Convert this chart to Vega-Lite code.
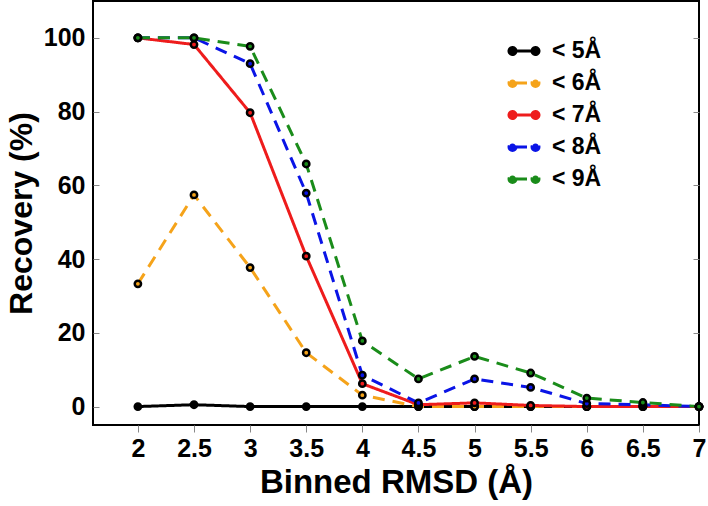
{
  "$schema": "https://vega.github.io/schema/vega-lite/v6.json",
  "width": 606,
  "height": 424,
  "autosize": {"type": "none"},
  "padding": {"left": 93, "top": 1, "right": 9, "bottom": 81},
  "background": "white",
  "config": {
    "font": "Liberation Sans",
    "view": {"stroke": "black", "strokeWidth": 2},
    "axis": {"grid": false, "domain": false, "labelFont": "Liberation Sans", "labelFontWeight": "bold", "labelColor": "black", "titleFont": "Liberation Sans", "titleFontWeight": "bold", "titleColor": "black", "tickColor": "#888888", "tickWidth": 1}
  },
  "data": {"values": [
    {"rmsd": 2, "series": "< 5Å", "recovery": 0},
    {"rmsd": 2.5, "series": "< 5Å", "recovery": 0.5},
    {"rmsd": 3, "series": "< 5Å", "recovery": 0},
    {"rmsd": 3.5, "series": "< 5Å", "recovery": 0},
    {"rmsd": 4, "series": "< 5Å", "recovery": 0},
    {"rmsd": 4.5, "series": "< 5Å", "recovery": 0},
    {"rmsd": 5, "series": "< 5Å", "recovery": 0},
    {"rmsd": 5.5, "series": "< 5Å", "recovery": 0},
    {"rmsd": 6, "series": "< 5Å", "recovery": 0},
    {"rmsd": 6.5, "series": "< 5Å", "recovery": 0},
    {"rmsd": 7, "series": "< 5Å", "recovery": 0},
    {"rmsd": 2, "series": "< 6Å", "recovery": 33.3},
    {"rmsd": 2.5, "series": "< 6Å", "recovery": 57.4},
    {"rmsd": 3, "series": "< 6Å", "recovery": 37.7},
    {"rmsd": 3.5, "series": "< 6Å", "recovery": 14.6},
    {"rmsd": 4, "series": "< 6Å", "recovery": 3.1},
    {"rmsd": 4.5, "series": "< 6Å", "recovery": 0},
    {"rmsd": 5, "series": "< 6Å", "recovery": 0},
    {"rmsd": 5.5, "series": "< 6Å", "recovery": 0},
    {"rmsd": 6, "series": "< 6Å", "recovery": 0},
    {"rmsd": 6.5, "series": "< 6Å", "recovery": 0},
    {"rmsd": 7, "series": "< 6Å", "recovery": 0},
    {"rmsd": 2, "series": "< 7Å", "recovery": 100},
    {"rmsd": 2.5, "series": "< 7Å", "recovery": 98.2},
    {"rmsd": 3, "series": "< 7Å", "recovery": 79.7},
    {"rmsd": 3.5, "series": "< 7Å", "recovery": 40.8},
    {"rmsd": 4, "series": "< 7Å", "recovery": 6.2},
    {"rmsd": 4.5, "series": "< 7Å", "recovery": 0.5},
    {"rmsd": 5, "series": "< 7Å", "recovery": 1},
    {"rmsd": 5.5, "series": "< 7Å", "recovery": 0.3},
    {"rmsd": 6, "series": "< 7Å", "recovery": 0},
    {"rmsd": 6.5, "series": "< 7Å", "recovery": 0},
    {"rmsd": 7, "series": "< 7Å", "recovery": 0},
    {"rmsd": 2, "series": "< 8Å", "recovery": 100},
    {"rmsd": 2.5, "series": "< 8Å", "recovery": 100},
    {"rmsd": 3, "series": "< 8Å", "recovery": 93},
    {"rmsd": 3.5, "series": "< 8Å", "recovery": 57.9},
    {"rmsd": 4, "series": "< 8Å", "recovery": 8.5},
    {"rmsd": 4.5, "series": "< 8Å", "recovery": 1},
    {"rmsd": 5, "series": "< 8Å", "recovery": 7.5},
    {"rmsd": 5.5, "series": "< 8Å", "recovery": 5.2},
    {"rmsd": 6, "series": "< 8Å", "recovery": 0.8},
    {"rmsd": 6.5, "series": "< 8Å", "recovery": 0.5},
    {"rmsd": 7, "series": "< 8Å", "recovery": 0},
    {"rmsd": 2, "series": "< 9Å", "recovery": 100},
    {"rmsd": 2.5, "series": "< 9Å", "recovery": 100},
    {"rmsd": 3, "series": "< 9Å", "recovery": 97.7},
    {"rmsd": 3.5, "series": "< 9Å", "recovery": 65.8},
    {"rmsd": 4, "series": "< 9Å", "recovery": 17.8},
    {"rmsd": 4.5, "series": "< 9Å", "recovery": 7.5},
    {"rmsd": 5, "series": "< 9Å", "recovery": 13.6},
    {"rmsd": 5.5, "series": "< 9Å", "recovery": 9.1},
    {"rmsd": 6, "series": "< 9Å", "recovery": 2.3},
    {"rmsd": 6.5, "series": "< 9Å", "recovery": 1.1},
    {"rmsd": 7, "series": "< 9Å", "recovery": 0}
  ]},
  "encoding": {
    "x": {"field": "rmsd", "type": "quantitative", "title": "Binned RMSD (Å)",
      "scale": {"domain": [1.6, 7], "nice": false, "zero": false},
      "axis": {"values": [2, 2.5, 3, 3.5, 4, 4.5, 5, 5.5, 6, 6.5, 7], "format": "~g", "labelFontSize": 25, "titleFontSize": 33, "tickSize": 7, "labelPadding": 4, "titlePadding": 5, "labelFlush": false}},
    "color": {"field": "series", "type": "nominal", "sort": ["< 5Å", "< 6Å", "< 7Å", "< 8Å", "< 9Å"],
      "scale": {"domain": ["< 5Å", "< 6Å", "< 7Å", "< 8Å", "< 9Å"], "range": ["#000000", "#f5a31a", "#ee1c1c", "#0a14e6", "#1a8c1a"]},
      "legend": {"orient": "none", "legendX": 417, "legendY": 36, "title": null,
        "symbolType": "M-0.72,0L0.72,0M-1.2,0a0.28,0.28 0 1,0 0.56,0a0.28,0.28 0 1,0 -0.56,0M0.64,0a0.28,0.28 0 1,0 0.56,0a0.28,0.28 0 1,0 -0.56,0",
        "symbolSize": 625, "symbolStrokeWidth": 3, "symbolFillColor": "black", "symbolDash": [],
        "labelFontSize": 23, "labelFontWeight": "bold", "labelColor": "black", "labelFont": "Liberation Sans", "rowPadding": 6, "labelOffset": 14}}
  },
  "layer": [
    {"mark": {"type": "line", "strokeWidth": 3, "clip": true},
     "encoding": {
       "y": {"field": "recovery", "type": "quantitative", "title": "Recovery (%)",
         "scale": {"domain": [-5, 110], "nice": false, "zero": false},
         "axis": {"values": [0, 20, 40, 60, 80, 100], "labelFontSize": 25, "titleFontSize": 32, "tickSize": -6, "labelPadding": 14, "titlePadding": 5}},
       "strokeDash": {"field": "series", "type": "nominal",
         "scale": {"domain": ["< 5Å", "< 6Å", "< 7Å", "< 8Å", "< 9Å"], "range": [[1, 0], [12, 8], [1, 0], [12, 8], [12, 8]]},
         "legend": null}
     }},
    {"mark": {"type": "point", "filled": true, "size": 40, "stroke": "black", "strokeWidth": 2.5, "opacity": 1},
     "encoding": {
       "y": {"field": "recovery", "type": "quantitative", "axis": null}
     }},
    {"mark": {"type": "point", "opacity": 0},
     "encoding": {
       "y": {"field": "recovery", "type": "quantitative",
         "axis": {"orient": "right", "values": [0, 20, 40, 60, 80, 100], "labels": false, "title": null, "tickSize": -6}},
       "color": {"value": "black"}
     }}
  ],
  "resolve": {"axis": {"y": "independent"}}
}
